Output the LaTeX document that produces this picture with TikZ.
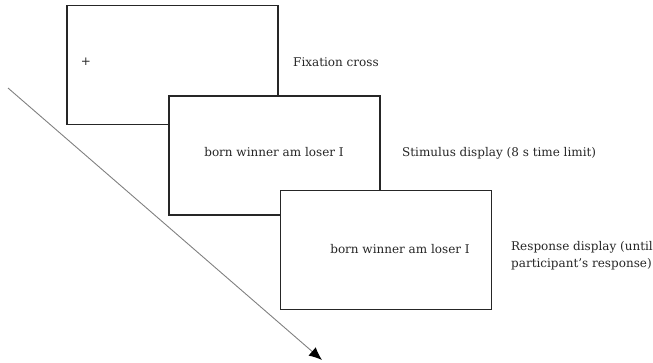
\documentclass[tikz,border=0pt]{standalone}
\usepackage{fontspec}
\setmainfont{DejaVu Serif}
\usetikzlibrary{arrows.meta}

\tikzset{
  screen/.style={draw=black!85, line width=1.5pt, fill=white, minimum width=211pt, minimum height=119pt, inner sep=0pt},
  screentext/.style={font=\fontsize{12}{14}\selectfont, text=black!85, inner sep=0pt},
  caption/.style={font=\fontsize{12}{17}\selectfont, text=black!85, anchor=west, align=left, inner sep=0pt}
}

\begin{document}
\begin{tikzpicture}[x=1pt,y=-1pt]

\useasboundingbox (0,0) rectangle (653,362);

% time arrow
\coordinate (tstart) at (8,88);
\coordinate (tend) at (322,360);
\draw[black!50, line width=0.9pt, -{Latex[length=13pt,width=11pt,black]}] (tstart) -- (tend);

% the three screens
\node[screen] (fix) at (172.5,65) {};
\node[screen] (stim) at (274.5,155.5) {};
\node[screen] (resp) at (386,250) {};

\node[screentext] (cross) at (86,62) {+};
\node[screentext] (stimtext) at (274,152) {born winner am loser I};
\node[screentext] (resptext) at (400,249) {born winner am loser I};

% captions
\node[caption] (fixlabel) at (293,62) {Fixation cross};
\node[caption] (stimlabel) at (402,153) {Stimulus display (8 s time limit)};
\node[caption] (resplabel) at (511,255.5) {Response display (until\\participant’s response)};

\end{tikzpicture}
\end{document}
